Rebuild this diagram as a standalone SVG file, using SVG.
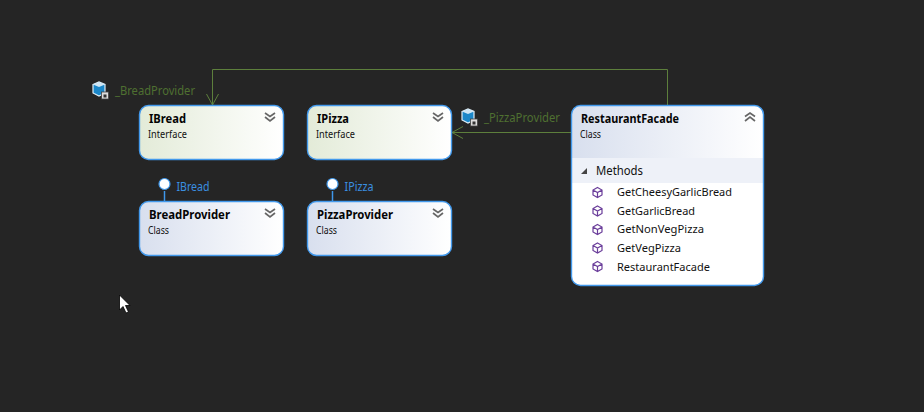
<svg xmlns="http://www.w3.org/2000/svg" width="924" height="412" viewBox="0 0 924 412">
<style>
text{font-family:"Noto Sans","Open Sans","Liberation Sans",sans-serif}
.box{stroke:#4299ec;stroke-width:1.4}
.t{font-size:12.5px;font-weight:700;fill:#050505}
.s{font-size:10px;fill:#111}
.m{font-size:11.5px;fill:#111}
.g{font-size:12px;fill:#4f7031}
.l{font-size:12px;fill:#3a8fe0}
.conn{fill:none;stroke:#5d7f3c;stroke-width:1}
.chev{fill:none;stroke:#666;stroke-width:1.7}
.lol{stroke:#3f97ea;stroke-width:1.5;fill:none}
.mi{fill:none;stroke:#6a3d9a;stroke-width:1.2}
</style>
<defs>
<linearGradient id="cls"><stop offset="0" stop-color="#d8dfee"/><stop offset="1" stop-color="#ffffff"/></linearGradient>
<linearGradient id="ifc"><stop offset="0" stop-color="#e3ebd8"/><stop offset="1" stop-color="#ffffff"/></linearGradient>
<marker id="open" markerUnits="userSpaceOnUse" markerWidth="24" markerHeight="24" refX="14" refY="12" orient="auto"><path d="M3 6 L14 12 L3 18" fill="none" stroke="#5d7f3c" stroke-width="1"/></marker>
<g id="dn"><path class="chev" d="M-5 -5 L0 -1.500 L5 -5 M-5 -1 L0 3 L5 -1"/></g>
<g id="up"><path class="chev" d="M-5 -1.500 L0 -5 L5 -1.500 M-5 3 L0 -1 L5 3"/></g>
<g id="cube"><path class="mi" d="M0 -5 L4.500 -2.500 L4.500 2.500 L0 5 L-4.500 2.500 L-4.500 -2.500 Z M-4.500 -2.500 L0 0 L4.500 -2.500 M0 0 L0 5"/></g>
<g id="field"><path d="M-6 -5.500 L0 -8 L6 -5.500 L6 3 L0 6 L-6 3 Z" fill="#1b87c9" stroke="#dfeef8" stroke-width="1.200"/><path d="M-6 -5.500 L0 -8 L6 -5.500 L0 -3 Z" fill="#cfe6f5"/><rect x="2.500" y="2" width="7" height="7" fill="#ddd" stroke="#444" stroke-width="0.800"/><rect x="4.500" y="4.500" width="3" height="3" fill="#333"/></g>
</defs>
<rect width="924" height="412" fill="#252525"/>
<g id="connectors">
<path class="conn" d="M667.500 105 V69.500 H212.500 V105" marker-end="url(#open)"/>
<path class="conn" d="M571 132.500 H452" marker-end="url(#open)"/>
</g>
<g id="label-bread"><use href="#field" x="99" y="90"/><text class="g" x="115" y="95" textLength="80" lengthAdjust="spacingAndGlyphs">_BreadProvider</text></g>
<g id="label-pizza"><use href="#field" x="468" y="117"/><text class="g" x="484" y="122" textLength="76" lengthAdjust="spacingAndGlyphs">_PizzaProvider</text></g>
<g id="IBread"><rect class="box" x="139.500" y="105.500" width="144" height="54" rx="9" fill="url(#ifc)"/><text class="t" x="149" y="123" textLength="37" lengthAdjust="spacingAndGlyphs">IBread</text><text class="s" x="148" y="138" textLength="39" lengthAdjust="spacingAndGlyphs">Interface</text><use href="#dn" x="270" y="118"/></g>
<g id="IPizza"><rect class="box" x="307.500" y="105.500" width="144" height="54" rx="9" fill="url(#ifc)"/><text class="t" x="317" y="123" textLength="32" lengthAdjust="spacingAndGlyphs">IPizza</text><text class="s" x="316" y="138" textLength="39" lengthAdjust="spacingAndGlyphs">Interface</text><use href="#dn" x="438" y="118"/></g>
<g id="BreadProvider"><path class="lol" d="M164.500 191 V202"/><circle cx="164.500" cy="184" r="5.500" fill="#fff" stroke="#3f97ea" stroke-width="1.200"/><text class="l" x="176.500" y="191" textLength="33" lengthAdjust="spacingAndGlyphs">IBread</text><rect class="box" x="139.500" y="201.500" width="144" height="54" rx="9" fill="url(#cls)"/><text class="t" x="149" y="219" textLength="81" lengthAdjust="spacingAndGlyphs">BreadProvider</text><text class="s" x="148" y="234" textLength="21" lengthAdjust="spacingAndGlyphs">Class</text><use href="#dn" x="270" y="214"/></g>
<g id="PizzaProvider"><path class="lol" d="M332.500 191 V202"/><circle cx="332.500" cy="184" r="5.500" fill="#fff" stroke="#3f97ea" stroke-width="1.200"/><text class="l" x="344.500" y="191" textLength="29" lengthAdjust="spacingAndGlyphs">IPizza</text><rect class="box" x="307.500" y="201.500" width="144" height="54" rx="9" fill="url(#cls)"/><text class="t" x="317" y="219" textLength="76" lengthAdjust="spacingAndGlyphs">PizzaProvider</text><text class="s" x="316" y="234" textLength="21" lengthAdjust="spacingAndGlyphs">Class</text><use href="#dn" x="438" y="214"/></g>
<g id="RestaurantFacade">
<rect x="571.500" y="105.500" width="192" height="180" rx="9" fill="#fff"/>
<path d="M572 158 V114.500 A9 9 0 0 1 581 106 H754 A9 9 0 0 1 763 114.500 V158 Z" fill="url(#cls)"/>
<rect x="572" y="158" width="191" height="25" fill="#eef1f8"/>
<path d="M581 174 L587 174 L587 168 Z" fill="#444"/>
<text class="t" x="581" y="123" textLength="98" lengthAdjust="spacingAndGlyphs">RestaurantFacade</text>
<text class="s" x="580" y="138" textLength="21" lengthAdjust="spacingAndGlyphs">Class</text>
<use href="#up" x="750" y="118"/>
<text x="596" y="175" font-size="12" fill="#111" textLength="47" lengthAdjust="spacingAndGlyphs">Methods</text>
<use href="#cube" x="597.500" y="192.500"/><text class="m" x="617" y="196" textLength="115" lengthAdjust="spacingAndGlyphs">GetCheesyGarlicBread</text>
<use href="#cube" x="597.500" y="211"/><text class="m" x="617" y="215" textLength="78" lengthAdjust="spacingAndGlyphs">GetGarlicBread</text>
<use href="#cube" x="597.500" y="229.500"/><text class="m" x="617" y="233" textLength="87" lengthAdjust="spacingAndGlyphs">GetNonVegPizza</text>
<use href="#cube" x="597.500" y="248"/><text class="m" x="617" y="252" textLength="64" lengthAdjust="spacingAndGlyphs">GetVegPizza</text>
<use href="#cube" x="597.500" y="266.500"/><text class="m" x="617" y="271" textLength="93" lengthAdjust="spacingAndGlyphs">RestaurantFacade</text>
<rect class="box" x="571.500" y="105.500" width="192" height="180" rx="9" fill="none"/>
</g>
<path d="M119.500 295 V310 L123 306.500 L126 313 L128.500 312 L125.500 305.500 L130 305.500 Z" fill="#fff" stroke="#000" stroke-width="0.800"/>
</svg>
